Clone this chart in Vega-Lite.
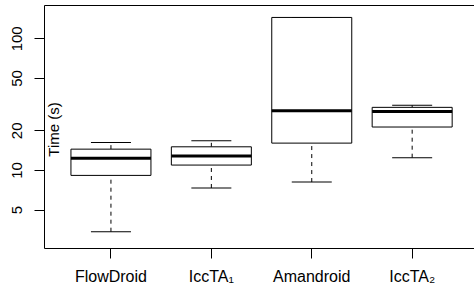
{
  "$schema": "https://vega.github.io/schema/vega-lite/v6.json",
  "width": 430,
  "height": 243,
  "autosize": {"type": "none"},
  "padding": {"left": 44, "top": 5, "right": 0, "bottom": 41},
  "background": "white",
  "config": {
    "view": {"stroke": null},
    "font": "Liberation Sans",
    "axis": {"domainColor": "black", "tickColor": "black", "labelColor": "black", "titleColor": "black", "grid": false, "domainWidth": 1, "tickWidth": 1}
  },
  "data": {
    "values": [
      {"tool": "FlowDroid", "lower": 3.4, "q1": 9.1, "median": 12.3, "q3": 14.4, "upper": 16.2},
      {"tool": "IccTA₁", "lower": 7.3, "q1": 10.9, "median": 12.8, "q3": 15.0, "upper": 16.7},
      {"tool": "Amandroid", "lower": 8.1, "q1": 16.0, "median": 28.2, "q3": 144, "upper": 144},
      {"tool": "IccTA₂", "lower": 12.4, "q1": 21.2, "median": 27.8, "q3": 29.9, "upper": 31.0}
    ]
  },
  "resolve": {"axis": {"x": "independent"}},
  "layer": [
    {
      "mark": {"type": "rule", "color": "black", "strokeWidth": 1, "strokeDash": [4, 4]},
      "encoding": {
        "x": {"field": "tool", "type": "nominal", "sort": null,
          "scale": {"type": "band", "paddingInner": 0, "paddingOuter": 0.1414, "align": 0.59},
          "axis": {"orient": "bottom", "title": null, "labelAngle": 0, "labelFontSize": 16, "labelBaseline": "alphabetic", "labelPadding": 23, "tickSize": 10, "bandPosition": 0.5}},
        "y": {"field": "lower", "type": "quantitative",
          "scale": {"type": "log", "domain": [2.557, 179], "nice": false, "zero": false},
          "axis": {"title": "Time (s)", "values": [5, 10, 20, 50, 100], "tickSize": 10, "labelFontSize": 15, "labelAngle": -90, "labelAlign": "center", "labelBaseline": "alphabetic", "labelPadding": 13,
            "titleFontSize": 15, "titleFontWeight": "normal", "titleAngle": -90, "titleX": 14.5, "titleY": 124, "titleAlign": "center", "titleBaseline": "alphabetic"}},
        "y2": {"field": "q1"}
      }
    },
    {
      "mark": {"type": "rule", "color": "black", "strokeWidth": 1, "strokeDash": [4, 4]},
      "encoding": {
        "x": {"field": "tool", "type": "nominal", "sort": null, "axis": null},
        "y": {"field": "q3", "type": "quantitative", "title": "Time (s)"},
        "y2": {"field": "upper"}
      }
    },
    {
      "mark": {"type": "tick", "color": "black", "thickness": 1, "size": 40, "opacity": 1},
      "encoding": {
        "x": {"field": "tool", "type": "nominal", "sort": null, "axis": null},
        "y": {"field": "lower", "type": "quantitative", "title": "Time (s)"}
      }
    },
    {
      "mark": {"type": "tick", "color": "black", "thickness": 1, "size": 40, "opacity": 1},
      "encoding": {
        "x": {"field": "tool", "type": "nominal", "sort": null, "axis": null},
        "y": {"field": "upper", "type": "quantitative", "title": "Time (s)"}
      }
    },
    {
      "mark": {"type": "bar", "fill": "white", "stroke": "black", "strokeWidth": 1, "size": 80},
      "encoding": {
        "x": {"field": "tool", "type": "nominal", "sort": null, "axis": null},
        "y": {"field": "q1", "type": "quantitative", "title": "Time (s)"},
        "y2": {"field": "q3"}
      }
    },
    {
      "mark": {"type": "tick", "color": "black", "thickness": 3, "size": 80, "opacity": 1},
      "encoding": {
        "x": {"field": "tool", "type": "nominal", "sort": null, "axis": null},
        "y": {"field": "median", "type": "quantitative", "title": "Time (s)"}
      }
    },
    {
      "mark": {"type": "rule", "opacity": 0},
      "encoding": {
        "x": {"field": "tool", "type": "nominal", "sort": null,
          "axis": {"orient": "top", "title": null, "labels": false, "ticks": false, "domain": true}}
      }
    }
  ]
}
